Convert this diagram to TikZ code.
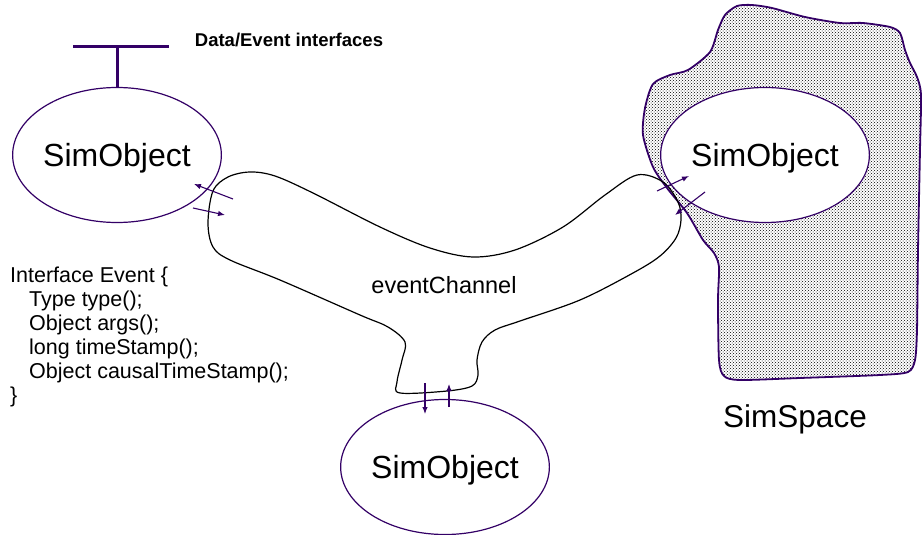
\documentclass[tikz,border=0pt]{standalone}
\usepackage{fontspec}
\setmainfont{Liberation Sans}
\usetikzlibrary{shapes.geometric,patterns,arrows.meta}
\definecolor{viola}{RGB}{51,0,102}
\tikzset{
  simobj/.style={ellipse, draw=viola, line width=1.2pt, fill=white,
    minimum width=200pt, minimum height=135pt, inner sep=0pt,
    font=\fontsize{32}{36}\selectfont, text depth=0pt},
  freccia/.style={viola, line width=1.1pt, -{Latex[length=7pt,width=5.5pt]}},
  interfaccia/.style={viola, line width=3pt},
}
\begin{document}
\begin{tikzpicture}[x=1pt,y=-1pt]
    \useasboundingbox (0,0) rectangle (923,535);

    % SimSpace (area puntinata)
    \draw[viola, line width=1.8pt, pattern=crosshatch dots, pattern color=black]
        plot[smooth cycle, tension=0.45] coordinates {
        (725,15) (737,6) (752,5) (772,8) (805,17) (840,23) (863,23) (890,27)
        (900,33) (905,50) (910,63) (917,77) (921,95) (920,150) (918,250) (917,330)
        (915,360) (908,372) (880,375) (800,378) (740,380) (724,376) (719,360)
        (718,300) (719,267) (714,253) (703,240) (687,213) (667,188)
        (653,167) (643,135) (645,108) (653,84) (670,75) (688,70) (710,52) (718,30)};

    % Nodi
    \node[simobj] (objA) at (117,155) {SimObject};
    \node[simobj] (objB) at (765,155) {SimObject};
    \node[simobj] (objC) at (445,467) {SimObject};

    % eventChannel
    \draw[line width=1.2pt] plot[smooth cycle, tension=0.55] coordinates {
        (213,191) (228,177) (250,172) (275,176) (313,193) (380,227) (430,248)
        (473,257) (515,250) (563,227) (605,195) (637,175) (663,182) (678,202)
        (681,220) (676,238) (660,256) (633,273) (580,300) (520,321) (495,330)
        (482,342) (477,360) (478,375) (472,386) (447,391) (400,393) (397,382)
        (402,360) (405,342) (388,327) (360,315) (280,280) (230,260) (213,247)
        (208,223)};
    \node[anchor=base, font=\fontsize{23.5}{26}\selectfont] (chlabel) at (444,293) {eventChannel};

    % Interfacce
    \coordinate (iface) at (117,47);
    \draw[interfaccia] (iface) -- (objA.north);
    \draw[interfaccia] ([xshift=-44pt]iface) -- ([xshift=52pt]iface);
    \node[anchor=base, font=\bfseries\fontsize{18.5}{21}\selectfont] (iflabel) at (289,46.5) {Data/Event interfaces};

    % Frecce
    \coordinate (la) at (233,199); \coordinate (lah) at (194,184);
    \coordinate (lb) at (193,208); \coordinate (lbh) at (225,215);
    \coordinate (ra) at (657,191); \coordinate (rah) at (689,176);
    \coordinate (rb) at (705,192); \coordinate (rbh) at (675,215);
    \coordinate (ba) at (425,383); \coordinate (bah) at (425,414);
    \coordinate (bb) at (449,407); \coordinate (bbh) at (449,384);
    \draw[freccia] (la) -- (lah); % verso objA
    \draw[freccia] (lb) -- (lbh); % verso il canale
    \draw[freccia] (ra) -- (rah); % verso objB
    \draw[freccia] (rb) -- (rbh);
    \draw[freccia] (ba) -- (bah); % verso objC
    \draw[freccia] (bb) -- (bbh);

    % Testi
    \node[anchor=north west, align=left, inner sep=0pt, font=\fontsize{21.5}{24}\selectfont] (evcode) at (10,267)
        {Interface Event \{\\
         \hspace*{19pt}Type type();\\
         \hspace*{19pt}Object args();\\
         \hspace*{19pt}long timeStamp();\\
         \hspace*{19pt}Object causalTimeStamp();\\
         \}};
    \node[anchor=base, font=\fontsize{31.5}{36}\selectfont] (spacelabel) at (795,427) {SimSpace};

\end{tikzpicture}
\end{document}
